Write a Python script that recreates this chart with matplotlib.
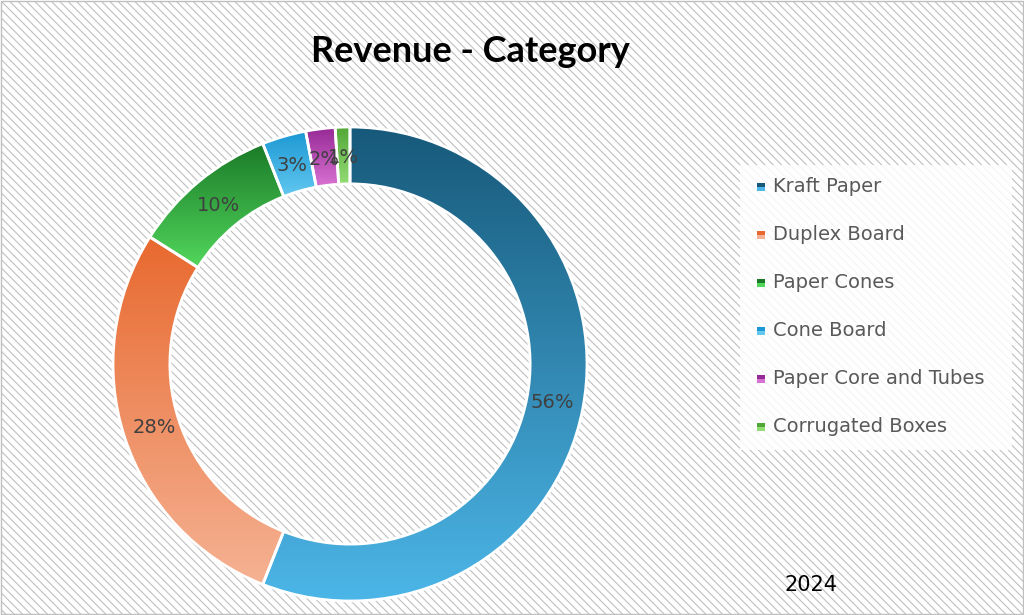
import numpy as np
import matplotlib
matplotlib.use("Agg")
import matplotlib.pyplot as plt
from matplotlib.colors import LinearSegmentedColormap
from matplotlib.patches import Rectangle

categories = ["Kraft Paper", "Duplex Board", "Paper Cones", "Cone Board",
              "Paper Core and Tubes", "Corrugated Boxes"]
shares = [56, 28, 10, 3, 2, 1]
year_label = "2024"

# top (dark) / bottom (light) colours of each wedge gradient
top_colors = ["#17597a", "#e8692f", "#1a7a27", "#1c98d4", "#962a96", "#52a636"]
bottom_colors = ["#4cb6e8", "#f5b293", "#52d65c", "#62c8f0", "#d872d2", "#92dc74"]

W, H = 1024, 615
fig = plt.figure(figsize=(W / 100, H / 100), dpi=100)

# background with light diagonal hatching
bg = fig.add_axes([0, 0, 1, 1])
bg.set_xlim(0, W)
bg.set_ylim(H, 0)
bg.axis("off")
plt.rcParams["hatch.color"] = "#e3e3e3"
plt.rcParams["hatch.linewidth"] = 0.8
bg.add_patch(Rectangle((1, 1), W - 2, H - 2, facecolor="white", edgecolor="#bfbfbf",
                       hatch="\\\\\\\\", lw=1))
bg.add_patch(Rectangle((740, 165), 272, 285, facecolor="white", edgecolor="none", alpha=0.85))
bg.text(470, 52, "Revenue - Category", ha="center", va="center", fontsize=26,
        fontweight="bold", family="Lato", color="black")
bg.text(785, 585, year_label, ha="left", va="center", fontsize=15, family="DejaVu Sans",
        color="black")

# donut
cx, cy, r = 350, 364, 237
ax = fig.add_axes([(cx - r) / W, (H - cy - r) / H, 2 * r / W, 2 * r / H])
wedges, texts, autotexts = ax.pie(
    shares, startangle=90, counterclock=False, radius=1,
    wedgeprops=dict(width=0.24, edgecolor="white", linewidth=2),
    autopct="%1.0f%%", pctdistance=0.87,
    textprops=dict(color="#404040", fontsize=14))

grad = np.linspace(1, 0, 256).reshape(-1, 1)
for w, c0, c1 in zip(wedges, top_colors, bottom_colors):
    ext = w.get_path().get_extents()
    cmap = LinearSegmentedColormap.from_list("g", [c1, c0])
    im = ax.imshow(grad, cmap=cmap, aspect="auto",
                   extent=[ext.x0, ext.x1, ext.y0, ext.y1], zorder=w.get_zorder())
    im.set_clip_path(w)
    w.set_facecolor("none")
    w.set_zorder(w.get_zorder() + 0.5)
ax.set_xlim(-1, 1)
ax.set_ylim(-1, 1)
ax.axis("off")

# legend
for i, (name, c0, c1) in enumerate(zip(categories, top_colors, bottom_colors)):
    y = 187 + i * 48
    bg.add_patch(Rectangle((757, y - 4), 8, 4, facecolor=c0, edgecolor="none"))
    bg.add_patch(Rectangle((757, y), 8, 4, facecolor=c1, edgecolor="none"))
    bg.text(773, y, name, ha="left", va="center", fontsize=14, color="#595959",
            family="DejaVu Sans")

fig.savefig("out.png", dpi=100)
